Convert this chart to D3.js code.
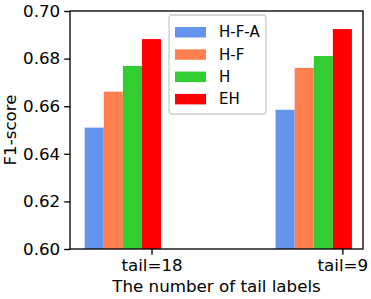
<!DOCTYPE html>
<html>
<head>
<meta charset="utf-8">
<script src="https://cdn.jsdelivr.net/npm/d3@7"></script>
<style>
  body { margin: 0; background: #fff; }
  svg text { font-family: "DejaVu Sans", sans-serif; fill: #000; }
</style>
</head>
<body>
<svg width="371" height="299"></svg>
<script>
// chart data
var groups = ["tail=18", "tail=9"];
var seriesNames = ["H-F-A", "H-F", "H", "EH"];
var seriesColors = ["#6495ed", "#ff7f50", "#32cd32", "#ff0000"];
var hfa = [0.651, 0.6585];
var hf = [0.6661, 0.6761];
var h = [0.6769, 0.6811];
var eh = [0.6882, 0.6924];
var yTicks = [0.60, 0.62, 0.64, 0.66, 0.68, 0.70];

var series = [hfa, hf, h, eh];
var offsets = [-0.3, -0.2, -0.1, 0];
var barW = 0.1;

// plot box (window.top is read-only, so no "top" here)
var plotL = 70, plotR = 363, plotT = 11, plotB = 249;

var svg = d3.select("svg");

var x = d3.scaleLinear()
    .domain([-0.427, 1.108])
    .range([plotL, plotR]);

var y = d3.scaleLinear()
    .domain([0.6, 0.7])
    .range([plotB, plotT]);

// bars
series.forEach(function(vals, i) {
  svg.append("g")
    .selectAll("rect")
    .data(vals)
    .enter().append("rect")
      .attr("x", function(d, j) { return x(j + offsets[i] - barW / 2); })
      .attr("width", x(barW) - x(0))
      .attr("y", function(d) { return y(d); })
      .attr("height", function(d) { return y(0.6) - y(d); })
      .attr("fill", seriesColors[i]);
});

// axes
var yAxis = d3.axisLeft(y)
    .tickValues(yTicks)
    .tickFormat(d3.format(".2f"))
    .tickSize(5.8)
    .tickPadding(4);

var xAxis = d3.axisBottom(x)
    .tickValues([0, 1])
    .tickFormat(function(d) { return groups[d]; })
    .tickSize(5.8)
    .tickPadding(4);

var gy = svg.append("g")
    .attr("transform", "translate(" + plotL + ",0)")
    .call(yAxis);
var gx = svg.append("g")
    .attr("transform", "translate(0," + plotB + ")")
    .call(xAxis);

[gx, gy].forEach(function(g) {
  g.select(".domain").remove();
  g.selectAll("line").attr("stroke", "#000").attr("stroke-width", 1.33);
  g.selectAll("text").style("font-size", "16.7px").attr("fill", "#000");
});

// frame
svg.append("rect")
    .attr("x", plotL)
    .attr("y", plotT)
    .attr("width", plotR - plotL)
    .attr("height", plotB - plotT)
    .attr("fill", "none")
    .attr("stroke", "#000")
    .attr("stroke-width", 1.33);

// axis titles
svg.append("text")
    .attr("x", (plotL + plotR) / 2)
    .attr("y", 292)
    .attr("text-anchor", "middle")
    .style("font-size", "16.7px")
    .text("The number of tail labels");

svg.append("text")
    .attr("transform", "translate(16," + ((plotT + plotB) / 2) + ") rotate(-90)")
    .attr("text-anchor", "middle")
    .style("font-size", "16.7px")
    .text("F1-score");

// legend
var legend = svg.append("g").attr("transform", "translate(169,15)");
legend.append("rect")
    .attr("width", 97)
    .attr("height", 99)
    .attr("rx", 3)
    .attr("fill", "#fff")
    .attr("fill-opacity", 0.8)
    .attr("stroke", "#cccccc")
    .attr("stroke-width", 1.33);

var items = legend.selectAll("g.item")
    .data(seriesNames)
    .enter().append("g")
      .attr("class", "item")
      .attr("transform", function(d, i) { return "translate(0," + (17 + i * 22.3) + ")"; });

items.append("rect")
    .attr("x", 6)
    .attr("y", -5)
    .attr("width", 31)
    .attr("height", 10.5)
    .attr("fill", function(d, i) { return seriesColors[i]; });

items.append("text")
    .attr("x", 50)
    .attr("dy", "0.36em")
    .style("font-size", "15px")
    .text(function(d) { return d; });
</script>
</body>
</html>
